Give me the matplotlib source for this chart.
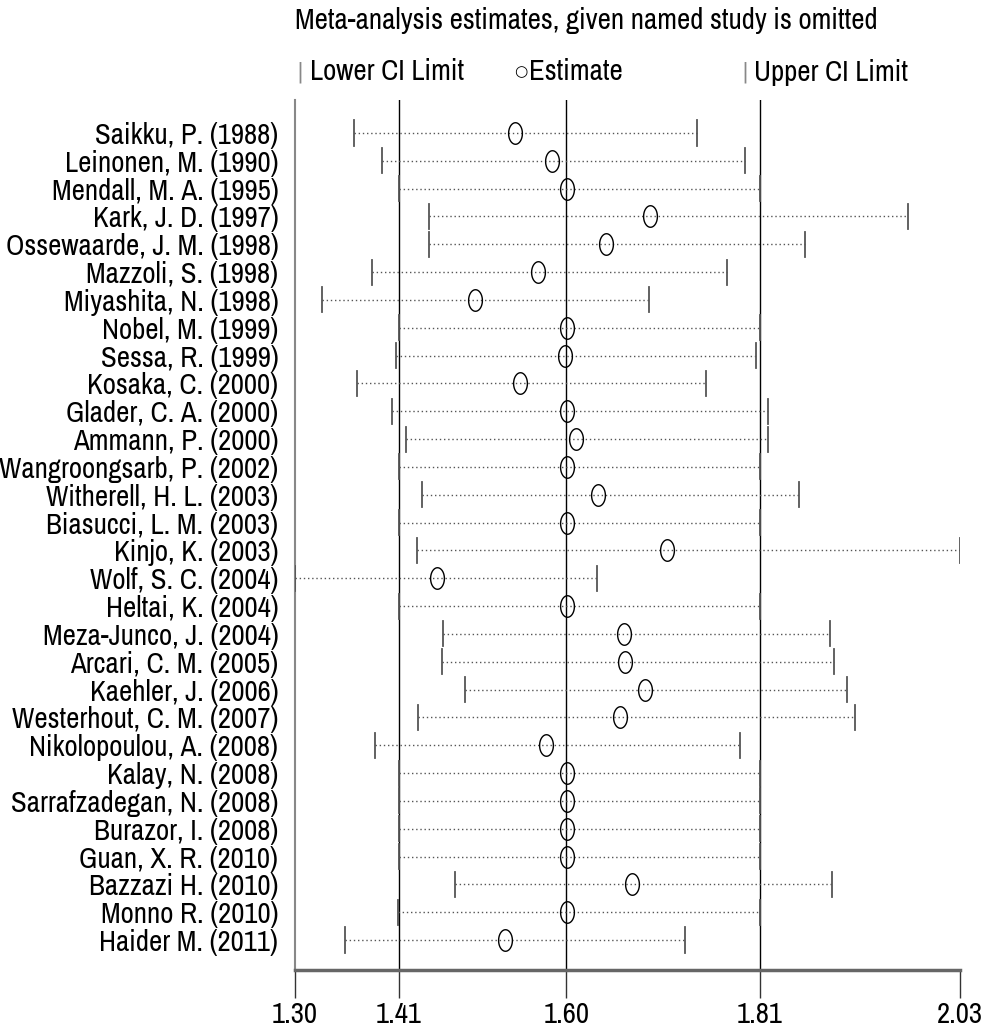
import matplotlib
matplotlib.use("Agg")
import matplotlib.pyplot as plt
from matplotlib.path import Path
import numpy as np

studies = [
    "Saikku, P. (1988)", "Leinonen, M. (1990)", "Mendall, M. A. (1995)",
    "Kark, J. D. (1997)", "Ossewaarde, J. M. (1998)", "Mazzoli, S. (1998)",
    "Miyashita, N. (1998)", "Nobel, M. (1999)", "Sessa, R. (1999)",
    "Kosaka, C. (2000)", "Glader, C. A. (2000)", "Ammann, P. (2000)",
    "Wangroongsarb, P. (2002)", "Witherell, H. L. (2003)", "Biasucci, L. M. (2003)",
    "Kinjo, K. (2003)", "Wolf, S. C. (2004)", "Heltai, K. (2004)",
    "Meza-Junco, J. (2004)", "Arcari, C. M. (2005)", "Kaehler, J. (2006)",
    "Westerhout, C. M. (2007)", "Nikolopoulou, A. (2008)", "Kalay, N. (2008)",
    "Sarrafzadegan, N. (2008)", "Burazor, I. (2008)", "Guan, X. R. (2010)",
    "Bazzazi H. (2010)", "Monno R. (2010)", "Haider M. (2011)",
]
lower = [1.365, 1.395, 1.414, 1.447, 1.447, 1.385, 1.330, 1.414, 1.411, 1.368,
         1.406, 1.422, 1.414, 1.439, 1.414, 1.434, 1.300, 1.414, 1.462, 1.461,
         1.487, 1.435, 1.388, 1.414, 1.414, 1.414, 1.414, 1.476, 1.413, 1.355]
estimate = [1.542, 1.582, 1.599, 1.690, 1.641, 1.567, 1.498, 1.599, 1.596, 1.547,
            1.599, 1.608, 1.599, 1.633, 1.599, 1.708, 1.456, 1.599, 1.661, 1.662,
            1.684, 1.657, 1.576, 1.599, 1.599, 1.599, 1.599, 1.670, 1.599, 1.530]
upper = [1.741, 1.794, 1.810, 1.973, 1.860, 1.774, 1.689, 1.810, 1.806, 1.751,
         1.819, 1.819, 1.810, 1.853, 1.810, 2.030, 1.631, 1.810, 1.887, 1.892,
         1.906, 1.915, 1.789, 1.810, 1.810, 1.810, 1.810, 1.889, 1.810, 1.728]

tick_values = [1.30, 1.414, 1.598, 1.81, 2.03]
tick_labels = ["1.30", "1.41", "1.60", "1.81", "2.03"]
grid_values = [1.414, 1.598, 1.81]

plt.rcParams["font.family"] = ["Archivo Narrow", "DejaVu Sans"]
FS = 20.8

W, H = 996, 1028
fig = plt.figure(figsize=(W / 100, H / 100), dpi=100)
ax = fig.add_axes([295 / W, 1 - 970 / H, (960 - 295) / W, (970 - 100) / H])

n = len(studies)
ypos = np.arange(n)
ax.set_xlim(tick_values[0], tick_values[-1])
ax.set_ylim(n - 1 + 1.078, -1.186)

for g in grid_values:
    ax.axvline(g, color="black", lw=1.0, zorder=1)

# CI span (dotted) with end caps
for y, lo, est, up in zip(ypos, lower, estimate, upper):
    ax.plot([lo, up], [y, y], color="#555555", lw=1.0, ls=(0, (1, 2)), zorder=2)
    ax.plot([lo, lo], [y - 0.45, y + 0.45], color="#555555", lw=1.3, zorder=3)
    ax.plot([up, up], [y - 0.45, y + 0.45], color="#555555", lw=1.3, zorder=3)

# elliptical estimate marker
t = np.linspace(0, 2 * np.pi, 60)
ell = Path(np.column_stack([0.64 * np.cos(t), np.sin(t)]))
ax.plot(estimate, ypos, ls="none", marker=ell, markersize=15.5,
        markerfacecolor="none", markeredgecolor="black", markeredgewidth=1.0,
        zorder=4)

ax.set_yticks(ypos)
ax.set_yticklabels(studies, fontsize=FS)
ax.tick_params(axis="y", length=0, pad=12)
ax.set_xticks(tick_values)
ax.set_xticklabels(tick_labels, fontsize=FS)
ax.tick_params(axis="x", length=20, width=1.0, color="#333333", pad=2)

for s in ["top", "right"]:
    ax.spines[s].set_visible(False)
ax.spines["left"].set_color("#888888")
ax.spines["left"].set_linewidth(1.5)
ax.spines["bottom"].set_color("#666666")
ax.spines["bottom"].set_linewidth(2.5)

ty = 1 - 72 / H
fig.text(295 / W, 1 - 21 / H, "Meta-analysis estimates, given named study is omitted",
         fontsize=FS, ha="left", va="center")
fig.text(300 / W, ty, "|", fontsize=15, color="#888888", ha="center", va="center",
         family=["DejaVu Sans"])
fig.text(310 / W, ty, "Lower CI Limit", fontsize=FS, ha="left", va="center")
fig.text(521 / W, ty, "○", fontsize=11, ha="center", va="center",
         family=["DejaVu Sans"])
fig.text(529 / W, ty, "Estimate", fontsize=FS, ha="left", va="center")
fig.text(745 / W, ty, "|", fontsize=15, color="#888888", ha="center", va="center",
         family=["DejaVu Sans"])
fig.text(754 / W, ty, "Upper CI Limit", fontsize=FS, ha="left", va="center")

fig.savefig("out.png", dpi=100, facecolor="white")
